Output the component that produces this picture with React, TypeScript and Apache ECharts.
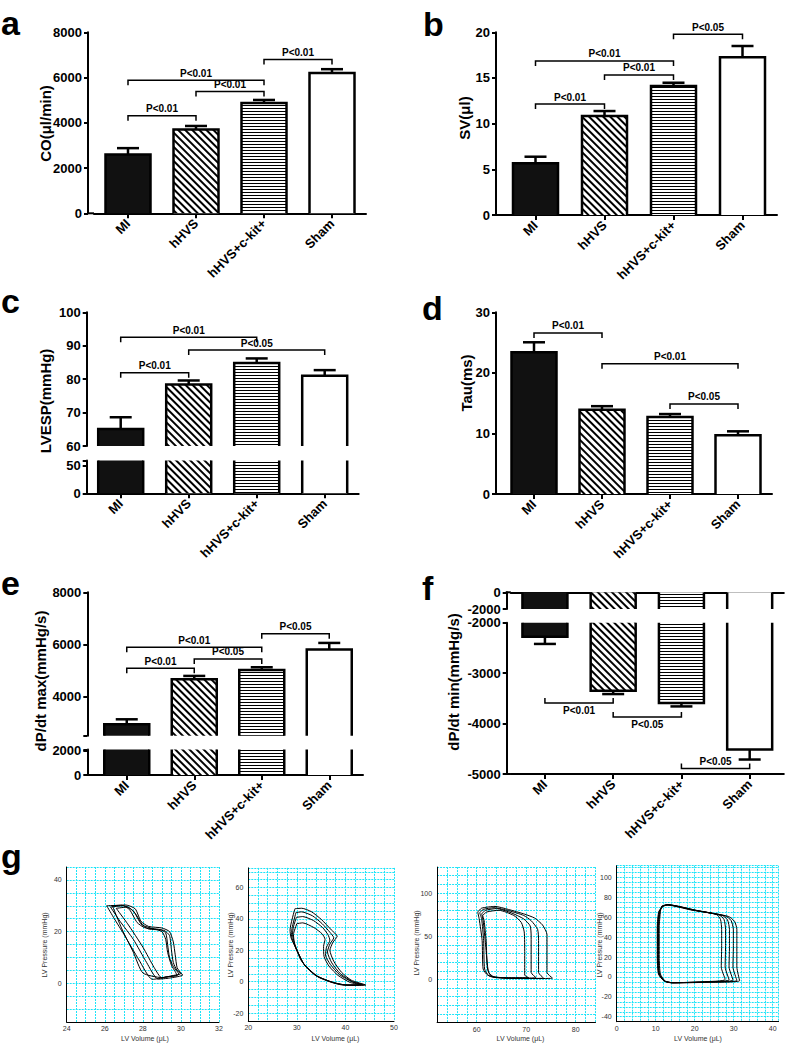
import React, { useEffect, useRef } from 'react';
import * as echarts from 'echarts';

const categories = ['MI', 'hHVS', 'hHVS+c-kit+', 'Sham'];

// a: CO
const coMean = [2600, 3700, 4870, 6200];
const coErrTop = [2880, 3860, 5010, 6370];
const coTicks = [0, 2000, 4000, 6000, 8000];
const coBrackets = [[0, 1, 4310], [0, 2, 5880], [1, 2, 5380], [2, 3, 6800]];
const coBracketText = ['P<0.01', 'P<0.01', 'P<0.01', 'P<0.01'];

// b: SV
const svMean = [5.66, 10.84, 14.12, 17.26];
const svErrTop = [6.38, 11.38, 14.48, 18.5];
const svTicks = [0, 5, 10, 15, 20];
const svBrackets = [[0, 1, 12.15], [0, 2, 16.86], [1, 2, 15.33], [2, 3, 19.78]];
const svBracketText = ['P<0.01', 'P<0.01', 'P<0.01', 'P<0.05'];

// c: LVESP (broken axis)
const lvespMean = [65.1, 78.4, 84.8, 81.0];
const lvespErrTop = [68.6, 79.6, 86.2, 82.7];
const lvespUpperTicks = [60, 70, 80, 90, 100];
const lvespLowerLabels = [0, 50];
const lvespLowerTicks = [0, 50, 60];
const lvespBrackets = [[0, 1, 81.9], [0, 2, 92.5], [1, 3, 88.7]];
const lvespBracketText = ['P<0.01', 'P<0.01', 'P<0.05'];

// d: Tau
const tauMean = [23.4, 13.9, 12.7, 9.7];
const tauErrTop = [25.05, 14.5, 13.2, 10.35];
const tauTicks = [0, 10, 20, 30];
const tauBrackets = [[0, 1, 26.6], [1, 3, 21.5], [2, 3, 14.86]];
const tauBracketText = ['P<0.01', 'P<0.01', 'P<0.05'];

// e: dP/dt max (broken axis)
const dpMaxMean = [2937, 4663, 5023, 5803];
const dpMaxErrTop = [3129, 4793, 5125, 6058];
const dpMaxUpperLabels = [4000, 6000, 8000];
const dpMaxUpperTicks = [2500, 4000, 6000, 8000];
const dpMaxLowerLabels = [0, 2000];
const dpMaxLowerTicks = [0, 2000, 2100];
const dpMaxBrackets = [[0, 1, 5088], [0, 2, 5894], [1, 2, 5445], [2, 3, 6406]];
const dpMaxBracketText = ['P<0.01', 'P<0.01', 'P<0.05', 'P<0.05'];

// f: dP/dt min (broken axis)
const dpMinMean = [-2277, -3350, -3593, -4516];
const dpMinErrTop = [-2421, -3415, -3660, -4713];
const dpMinUpperTicks = [-2000, 0];
const dpMinLowerTicks = [-5000, -4000, -3000, -2000];
const dpMinBrackets = [[0, 1, -3593], [1, 2, -3870], [2, 3, -4889]];
const dpMinBracketText = ['P<0.01', 'P<0.05', 'P<0.05'];

// g: PV loops [volume (uL), pressure (mmHg)]
const pv1Loops = [
  [[26.1, 30], [26.9, 30.2], [27.3, 28.5], [27.7, 23.5], [28.1, 21.5], [28.9, 20.8], [29.2, 19.5], [29.3, 15], [29.4, 10], [29.6, 6.5], [29.9, 3.5], [29.2, 2.3], [28.5, 1.5], [27.8, 9], [27.0, 19], [26.5, 25], [26.1, 30]],
  [[26.3, 29.5], [27.0, 30], [27.5, 28], [27.9, 23], [28.3, 21], [29.1, 20.5], [29.4, 18.5], [29.5, 13], [29.6, 8], [29.8, 5], [30.1, 3.2], [29.4, 2], [28.8, 1.6], [28.2, 8], [27.5, 17], [26.8, 24], [26.3, 29.5]],
  [[26.6, 29], [27.2, 29.5], [27.6, 27], [28.0, 22.5], [28.5, 21.2], [29.0, 20], [29.2, 17], [29.3, 12], [29.5, 7], [29.7, 4.5], [29.8, 3], [29.2, 2.5], [29.0, 2], [28.6, 6], [28.0, 14], [27.2, 23], [26.6, 29]],
  [[26.4, 30], [27.1, 30.3], [27.6, 28.8], [27.9, 24], [28.3, 22], [29.0, 21.4], [29.4, 20], [29.6, 16], [29.7, 11], [29.8, 6], [30.0, 3.8], [29.6, 3], [29.0, 2.2], [28.0, 4], [27.5, 12], [26.9, 21], [26.4, 30]],
];
const pv2Loops = [
  [[29.6, 46.5], [31, 46.8], [33, 44.6], [35.1, 39.5], [37.1, 33], [38.3, 29], [37.4, 25], [36.8, 20], [37.6, 13], [39.2, 6], [41.2, 1], [44.2, -2.1], [41, -2.3], [37.8, -1], [34.4, 3], [31.7, 10], [30, 20], [28.8, 28], [28.6, 33], [29.6, 46.5]],
  [[29.8, 44], [31, 44.5], [33.2, 42], [35.2, 37], [36.8, 31.5], [37.6, 28], [36.8, 24], [36.3, 19], [37.2, 12], [39, 5], [41.5, 0], [43.8, -2], [40.5, -2.2], [37.5, -0.5], [34.2, 3.5], [31.5, 11], [29.9, 21], [28.9, 29], [29, 34], [29.8, 44]],
  [[29.9, 41], [31.2, 41.5], [33.4, 39], [35.3, 34.5], [36.4, 30], [36.8, 26.5], [36.1, 22], [35.9, 17], [36.9, 11], [38.8, 4.5], [41.3, 0], [43.5, -1.9], [40, -2], [37, 0], [34, 4], [31.3, 12], [29.8, 22], [29.1, 30], [29.3, 35], [29.9, 41]],
  [[30, 37], [31.2, 37.5], [33.5, 34.5], [35.2, 30.5], [35.8, 27], [35.5, 22.5], [35.6, 16], [36.6, 10], [38.5, 4], [41, -0.5], [43.2, -1.8], [39.5, -2.1], [36.5, 0.5], [33.6, 4.5], [31, 13], [29.6, 23], [29.3, 30], [30, 37]],
];
const pv3Loops = [
  [[60.2, 78], [61, 82.5], [63.7, 84.5], [66.4, 81], [69.7, 75.5], [71.7, 71], [73.3, 63], [74.2, 52], [74.2, 25], [74.2, 8], [75.3, 1.5], [72, 1], [66, 1.5], [63.7, 2.5], [62.2, 5], [61.3, 12], [61.1, 45], [60.5, 70], [60.2, 78]],
  [[60.6, 77], [61.3, 81], [63.5, 83], [66.5, 79.5], [69.5, 74], [71, 68], [72.3, 58], [72.5, 45], [72.5, 8], [73.5, 1.5], [68, 1], [64, 2], [62.5, 4], [61.6, 12], [61.4, 45], [61, 70], [60.6, 77]],
  [[61, 76], [61.8, 80], [64, 82], [67, 77], [69.5, 70], [70.8, 62], [71, 50], [71, 8], [72, 2], [67, 1.5], [63.5, 3], [62.4, 8], [61.8, 40], [61.3, 68], [61, 76]],
  [[61.2, 74], [62, 78], [64.5, 80], [67.5, 74], [69, 66], [69.6, 55], [69.7, 30], [69.7, 5], [70.5, 2], [66, 2], [63, 3.5], [62.2, 12], [61.9, 45], [61.5, 68], [61.2, 74]],
];
const pv4Loops = [
  [[11.5, 71], [12.8, 72.5], [19, 67.5], [25.5, 63], [26.6, 58], [26.9, 48], [26.9, 30], [26.8, 10], [27.8, -2.5], [22, -4.8], [14, -5.8], [12.5, -4.5], [11.2, 3], [10.9, 20], [10.9, 50], [11.2, 66], [11.5, 71]],
  [[11.6, 71.5], [12.9, 72.8], [19.5, 67.5], [26.2, 62.5], [27.5, 58], [27.9, 48], [27.9, 30], [27.8, 10], [28.8, -2.8], [22.5, -5], [14, -5.8], [12.3, -4.2], [11, 3], [10.7, 20], [10.7, 50], [11.1, 66], [11.6, 71.5]],
  [[11.7, 71], [13, 72.5], [20, 67], [27, 62], [28.4, 57.5], [28.9, 48], [28.9, 30], [28.8, 10], [29.8, -3], [23, -5], [14.2, -5.7], [12.2, -4], [10.9, 3], [10.6, 20], [10.6, 50], [11, 66], [11.7, 71]],
  [[11.8, 71.5], [13.1, 72.8], [20.5, 67], [27.8, 61.5], [29.3, 57], [29.9, 48], [29.9, 30], [29.8, 10], [30.8, -3.5], [23.5, -5.2], [14.3, -5.8], [12.1, -3.8], [10.8, 3], [10.5, 20], [10.5, 50], [10.9, 66], [11.8, 71.5]],
  [[12, 71.5], [13.2, 72.6], [21, 66.5], [28.6, 61], [30.2, 56], [30.8, 48], [30.8, 30], [30.8, 10], [31.5, -3.8], [24, -5.3], [14.5, -5.9], [12, -3.5], [10.7, 3], [10.4, 20], [10.4, 50], [10.8, 66], [12, 71.5]],
];
const pv1XLabels = [24, 26, 28, 30, 32];
const pv1YLabels = [0, 20, 40];
const pv2XLabels = [20, 30, 40, 50];
const pv2YLabels = [-20, 0, 20, 40, 60];
const pv3XLabels = [60, 70, 80];
const pv3YLabels = [0, 50, 100];
const pv4XLabels = [0, 10, 20, 30, 40];
const pv4YLabels = [-40, -20, 0, 20, 40, 60, 80, 100];

const FONT = 'Arial, "Liberation Sans", Helvetica, sans-serif';

const diagDecal = { symbol: 'rect', symbolSize: 1, dashArrayX: [1, 0], dashArrayY: [2, 3], rotation: Math.PI / 4, color: '#000', backgroundColor: '#fff' };
const horizDecal = { symbol: 'rect', symbolSize: 1, dashArrayX: [1, 0], dashArrayY: [1, 2], rotation: 0, color: '#000', backgroundColor: '#fff' };
const barFills = [
  { color: '#111' },
  { color: '#fff', decal: diagDecal },
  { color: '#fff', decal: horizDecal },
  { color: '#fff' },
];

type Seg = {
  top: number; height: number; min: number; max: number; interval?: number;
  labels: number[]; ticks: number[]; xPos: 'bottom' | 'top' | 'none'; err: boolean; br: boolean;
};
type BarPanel = {
  means: number[]; errs: number[]; brackets: number[][]; bracketText: string[];
  tickDir: number; labelSides?: number[];
  left: number; width: number; offset: number; segs: Seg[];
  yName: string; yNameX: number; yNameY: number; letter: string; letterX: number; letterY: number;
};

const barPanels: BarPanel[] = [
  {
    means: coMean, errs: coErrTop, brackets: coBrackets, bracketText: coBracketText, tickDir: 1,
    left: 94, width: 272, offset: 6,
    segs: [{ top: 32.3, height: 181, min: 0, max: 8000, interval: 2000, labels: coTicks, ticks: coTicks, xPos: 'bottom', err: true, br: true }],
    yName: 'CO(\u03bcl/min)', yNameX: 45, yNameY: 123.5, letter: 'a', letterX: 1, letterY: 23,
  },
  {
    means: svMean, errs: svErrTop, brackets: svBrackets, bracketText: svBracketText, tickDir: 1,
    left: 501, width: 276, offset: 5,
    segs: [{ top: 32.3, height: 182.7, min: 0, max: 20, interval: 5, labels: svTicks, ticks: svTicks, xPos: 'bottom', err: true, br: true }],
    yName: 'SV(\u03bcl)', yNameX: 464, yNameY: 118, letter: 'b', letterX: 423, letterY: 24,
  },
  {
    means: lvespMean, errs: lvespErrTop, brackets: lvespBrackets, bracketText: lvespBracketText, tickDir: 1,
    left: 86.7, width: 272, offset: 0,
    segs: [
      { top: 312.3, height: 133.7, min: 60, max: 100, interval: 10, labels: lvespUpperTicks, ticks: lvespUpperTicks, xPos: 'none', err: true, br: true },
      { top: 460.5, height: 32.8, min: 0, max: 60, labels: lvespLowerLabels, ticks: lvespLowerTicks, xPos: 'bottom', err: false, br: false },
    ],
    yName: 'LVESP(mmHg)', yNameX: 45, yNameY: 401, letter: 'c', letterX: 1, letterY: 301,
  },
  {
    means: tauMean, errs: tauErrTop, brackets: tauBrackets, bracketText: tauBracketText, tickDir: 1,
    left: 500, width: 272, offset: 4,
    segs: [{ top: 312.3, height: 181.7, min: 0, max: 30, interval: 10, labels: tauTicks, ticks: tauTicks, xPos: 'bottom', err: true, br: true }],
    yName: 'Tau(ms)', yNameX: 466.5, yNameY: 383, letter: 'd', letterX: 422, letterY: 308,
  },
  {
    means: dpMaxMean, errs: dpMaxErrTop, brackets: dpMaxBrackets, bracketText: dpMaxBracketText, tickDir: 1,
    left: 93, width: 270, offset: 5.7,
    segs: [
      { top: 592.3, height: 143.4, min: 2500, max: 8000, labels: dpMaxUpperLabels, ticks: dpMaxUpperTicks, xPos: 'none', err: true, br: true },
      { top: 749.5, height: 25.5, min: 0, max: 2100, labels: dpMaxLowerLabels, ticks: dpMaxLowerTicks, xPos: 'bottom', err: false, br: false },
    ],
    yName: 'dP/dt max(mmHg/s)', yNameX: 40, yNameY: 681, letter: 'e', letterX: 1, letterY: 583,
  },
  {
    means: dpMinMean, errs: dpMinErrTop, brackets: dpMinBrackets, bracketText: dpMinBracketText, tickDir: -1,
    labelSides: [-1, -1, 1],
    left: 510.8, width: 273, offset: 4.1,
    segs: [
      { top: 592.3, height: 16.7, min: -2000, max: 0, labels: dpMinUpperTicks, ticks: dpMinUpperTicks, xPos: 'top', err: false, br: false },
      { top: 622.7, height: 151.3, min: -5000, max: -2000, interval: 1000, labels: dpMinLowerTicks, ticks: dpMinLowerTicks, xPos: 'bottom', err: true, br: true },
    ],
    yName: 'dP/dt min(mmHg/s)', yNameX: 453.3, yNameY: 682, letter: 'f', letterX: 422, letterY: 588,
  },
];

type PvPanel = {
  loops: number[][][]; xMin: number; xMax: number; xInt: number; xLabels: number[];
  yMin: number; yMax: number; yInt: number; yLabels: number[];
  left: number; top: number; width: number; height: number;
  xNameX: number; xNameY: number; yNameX: number; yNameY: number;
};

const pvPanels: PvPanel[] = [
  { loops: pv1Loops, xMin: 24, xMax: 32, xInt: 0.5, xLabels: pv1XLabels, yMin: -15, yMax: 45, yInt: 5, yLabels: pv1YLabels,
    left: 66.7, top: 867, width: 152.3, height: 155, xNameX: 145, xNameY: 1038, yNameX: 44, yNameY: 945 },
  { loops: pv2Loops, xMin: 20, xMax: 50, xInt: 2, xLabels: pv2XLabels, yMin: -25, yMax: 72.5, yInt: 5, yLabels: pv2YLabels,
    left: 248.3, top: 867.9, width: 145.7, height: 153.1, xNameX: 335.5, xNameY: 1038, yNameX: 230, yNameY: 945 },
  { loops: pv3Loops, xMin: 52, xMax: 84, xInt: 2, xLabels: pv3XLabels, yMin: -50, yMax: 130, yInt: 10, yLabels: pv3YLabels,
    left: 437.1, top: 867.1, width: 158.4, height: 155.5, xNameX: 520.5, xNameY: 1038, yNameX: 416.7, yNameY: 943 },
  { loops: pv4Loops, xMin: 0, xMax: 41.5, xInt: 2, xLabels: pv4XLabels, yMin: -45, yMax: 112, yInt: 5, yLabels: pv4YLabels,
    left: 616.7, top: 865.7, width: 161.9, height: 156, xNameX: 698, xNameY: 1038, yNameX: 599, yNameY: 945 },
];

const plain = (v: number) => String(v);

function buildOption() {
  const grid: any[] = [];
  const xAxis: any[] = [];
  const yAxis: any[] = [];
  const series: any[] = [];
  const graphic: any[] = [];
  let gi = 0;

  barPanels.forEach((p) => {
    p.segs.forEach((s) => {
      grid.push({ left: p.left, top: s.top, width: p.width, height: s.height });
      xAxis.push({
        type: 'category', gridIndex: gi, data: categories,
        show: s.xPos !== 'none',
        position: s.xPos === 'top' ? 'top' : 'bottom',
        axisLine: { show: true, onZero: false, lineStyle: { color: '#000', width: 2 } },
        axisTick: { show: s.xPos === 'bottom', alignWithLabel: true, length: 5, lineStyle: { color: '#000', width: 2 } },
        axisLabel: {
          show: s.xPos === 'bottom', rotate: 45, interval: 0, margin: 8,
          fontFamily: FONT, fontWeight: 'bold', fontSize: 13, color: '#000',
        },
        splitLine: { show: false },
      });
      const yA: any = {
        type: 'value', gridIndex: gi, min: s.min, max: s.max, offset: p.offset,
        axisLine: { show: true, onZero: false, lineStyle: { color: '#000', width: 2 } },
        axisTick: { show: true, length: 4, customValues: s.ticks, lineStyle: { color: '#000', width: 2 } },
        axisLabel: { customValues: s.labels, formatter: plain, margin: 6, fontFamily: FONT, fontWeight: 'bold', fontSize: 13, color: '#000' },
        splitLine: { show: false },
      };
      if (s.interval) yA.interval = s.interval;
      yAxis.push(yA);

      series.push({
        type: 'bar', xAxisIndex: gi, yAxisIndex: gi, barWidth: 45, clip: true, silent: true, z: 2,
        data: p.means.map((v, i) => ({ value: v, itemStyle: { ...barFills[i], borderWidth: 0 } })),
      });
      series.push({
        type: 'custom', xAxisIndex: gi, yAxisIndex: gi, clip: true, silent: true, z: 3,
        encode: { x: 0, y: 1 },
        data: p.means.map((v, i) => [i, v]),
        renderItem: (params: any, api: any) => {
          const top = api.coord([api.value(0), api.value(1)]);
          const base = api.coord([api.value(0), 0]);
          const hw = 22.5;
          return {
            type: 'polyline',
            shape: { points: [[top[0] - hw, base[1]], [top[0] - hw, top[1]], [top[0] + hw, top[1]], [top[0] + hw, base[1]]] },
            style: { stroke: '#000', fill: 'none', lineWidth: 2.5 },
          };
        },
      });
      if (s.err) {
        series.push({
          type: 'custom', xAxisIndex: gi, yAxisIndex: gi, silent: true, z: 4,
          encode: { x: 0, y: [1, 2] },
          data: p.means.map((v, i) => [i, v, p.errs[i]]),
          renderItem: (params: any, api: any) => {
            const p1 = api.coord([api.value(0), api.value(1)]);
            const p2 = api.coord([api.value(0), api.value(2)]);
            const cap = 11;
            return {
              type: 'group',
              children: [
                { type: 'line', shape: { x1: p1[0], y1: p1[1], x2: p2[0], y2: p2[1] }, style: { stroke: '#000', lineWidth: 2.5 } },
                { type: 'line', shape: { x1: p2[0] - cap, y1: p2[1], x2: p2[0] + cap, y2: p2[1] }, style: { stroke: '#000', lineWidth: 2.5 } },
              ],
            };
          },
        });
      }
      if (s.br) {
        const texts = p.bracketText;
        const sides = p.labelSides;
        const dir = p.tickDir;
        series.push({
          type: 'custom', xAxisIndex: gi, yAxisIndex: gi, silent: true, z: 5,
          encode: { x: [0, 1], y: 2 },
          data: p.brackets.map((b) => [b[0], b[1], b[2]]),
          renderItem: (params: any, api: any) => {
            const a = api.coord([api.value(0), api.value(2)]);
            const b = api.coord([api.value(1), api.value(2)]);
            const t = 5 * dir;
            const side = sides ? sides[params.dataIndex] : 1;
            return {
              type: 'group',
              children: [
                {
                  type: 'polyline',
                  shape: { points: [[a[0], a[1] + t], [a[0], a[1]], [b[0], b[1]], [b[0], b[1] + t]] },
                  style: { stroke: '#000', fill: 'none', lineWidth: 1.5 },
                },
                {
                  type: 'text', x: (a[0] + b[0]) / 2, y: side > 0 ? a[1] - 2 : a[1] + 2,
                  style: {
                    text: texts[params.dataIndex], fontFamily: FONT, fontWeight: 'bold', fontSize: 10, fill: '#000',
                    align: 'center', verticalAlign: side > 0 ? 'bottom' : 'top',
                  },
                },
              ],
            };
          },
        });
      }
      if (s.xPos !== 'none' && p.offset > 0) {
        const yy = s.xPos === 'top' ? s.top : s.top + s.height;
        graphic.push({
          type: 'line', shape: { x1: p.left - p.offset - 1, y1: yy, x2: p.left, y2: yy },
          style: { stroke: '#000', lineWidth: 2 }, silent: true,
        });
      }
      gi++;
    });
    graphic.push({
      type: 'text', x: p.yNameX, y: p.yNameY, rotation: Math.PI / 2,
      style: { text: p.yName, fontFamily: FONT, fontWeight: 'bold', fontSize: 15, fill: '#000', align: 'center', verticalAlign: 'middle' },
      silent: true,
    });
    graphic.push({
      type: 'text', x: p.letterX, y: p.letterY,
      style: { text: p.letter, fontFamily: FONT, fontWeight: 'bold', fontSize: 34, fill: '#000', align: 'left', verticalAlign: 'middle' },
      silent: true,
    });
  });

  graphic.push({
    type: 'text', x: 1, y: 856,
    style: { text: 'g', fontFamily: FONT, fontWeight: 'bold', fontSize: 34, fill: '#000', align: 'left', verticalAlign: 'middle' },
    silent: true,
  });

  const gridLine = { color: '#1ee4f8', width: 1, type: [2, 1] };
  pvPanels.forEach((p) => {
    grid.push({ left: p.left, top: p.top, width: p.width, height: p.height });
    xAxis.push({
      type: 'value', gridIndex: gi, min: p.xMin, max: p.xMax, interval: p.xInt,
      axisLine: { show: true, onZero: false, lineStyle: { color: '#000', width: 1 } },
      axisTick: { show: false },
      axisLabel: { customValues: p.xLabels, formatter: plain, fontFamily: FONT, fontSize: 7, color: '#333', margin: 3 },
      splitLine: { show: true, lineStyle: gridLine },
    });
    yAxis.push({
      type: 'value', gridIndex: gi, min: p.yMin, max: p.yMax, interval: p.yInt,
      axisLine: { show: true, onZero: false, lineStyle: { color: '#000', width: 1 } },
      axisTick: { show: false },
      axisLabel: { customValues: p.yLabels, formatter: plain, fontFamily: FONT, fontSize: 7, color: '#333', margin: 5 },
      splitLine: { show: true, lineStyle: gridLine },
    });
    p.loops.forEach((loop) => {
      series.push({
        type: 'line', xAxisIndex: gi, yAxisIndex: gi, data: loop, showSymbol: false, symbol: 'none',
        smooth: 0.2, silent: true, lineStyle: { color: '#000', width: 1 }, z: 3,
      });
    });
    graphic.push({
      type: 'text', x: p.xNameX, y: p.xNameY,
      style: { text: 'LV Volume (\u03bcL)', fontFamily: FONT, fontSize: 7, fill: '#333', align: 'center', verticalAlign: 'middle' },
      silent: true,
    });
    graphic.push({
      type: 'text', x: p.yNameX, y: p.yNameY, rotation: Math.PI / 2,
      style: { text: 'LV Pressure (mmHg)', fontFamily: FONT, fontSize: 7, fill: '#333', align: 'center', verticalAlign: 'middle' },
      silent: true,
    });
    gi++;
  });

  return {
    animation: false,
    backgroundColor: '#fff',
    textStyle: { fontFamily: FONT },
    grid, xAxis, yAxis, series, graphic,
  };
}

export default function App() {
  const ref = useRef<HTMLDivElement>(null);
  useEffect(() => {
    document.body.style.margin = '0';
    if (!ref.current) return;
    const chart = echarts.init(ref.current, undefined, { renderer: 'svg' });
    chart.setOption(buildOption() as any);
    return () => chart.dispose();
  }, []);
  return <div ref={ref} style={{ width: 787, height: 1043 }} />;
}
